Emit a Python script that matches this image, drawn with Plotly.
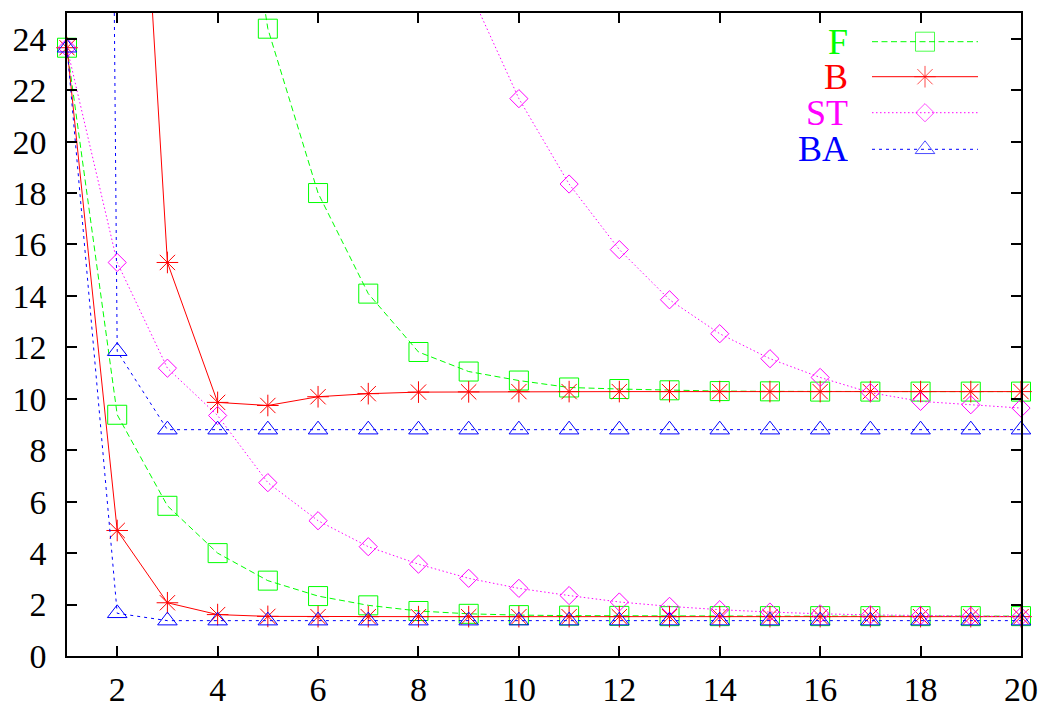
import plotly.graph_objects as go

# ---------------- data ----------------
x_all = list(range(1, 21))

F_low = [23.65, 9.38, 5.84, 4.00, 2.93, 2.33, 1.97, 1.75, 1.64, 1.59, 1.57, 1.56,
         1.55, 1.55, 1.55, 1.55, 1.55, 1.55, 1.55, 1.55]
F_up_x = list(range(4, 21))
F_up = [37.0, 24.39, 18.00, 14.09, 11.82, 11.06, 10.71, 10.44, 10.38, 10.33, 10.30,
        10.29, 10.28, 10.28, 10.28, 10.28, 10.28]

B_low = [23.65, 4.88, 2.07, 1.61, 1.54, 1.53, 1.53, 1.53, 1.53, 1.53, 1.53, 1.53,
         1.53, 1.53, 1.53, 1.53, 1.53, 1.53, 1.53, 1.53]
B_up_x = list(range(2, 21))
B_up = [48.0, 15.30, 9.86, 9.74, 10.08, 10.20, 10.26, 10.27, 10.28, 10.28, 10.28,
        10.28, 10.28, 10.28, 10.28, 10.28, 10.28, 10.28, 10.28]

ST_low = [23.65, 15.30, 11.19, 9.35, 6.74, 5.26, 4.25, 3.57, 3.02, 2.63, 2.35, 2.10,
          1.93, 1.80, 1.71, 1.64, 1.60, 1.57, 1.55, 1.54]
ST_up_x = list(range(9, 21))
ST_up = [25.95, 21.67, 18.35, 15.80, 13.85, 12.53, 11.56, 10.83, 10.24, 9.90, 9.77, 9.64]

BA_low = [23.65, 1.66, 1.375, 1.375, 1.375, 1.375, 1.375, 1.375, 1.375, 1.375, 1.375,
          1.375, 1.375, 1.375, 1.375, 1.375, 1.375, 1.375, 1.375, 1.375]
BA_up = [240.0, 11.85, 8.80, 8.80, 8.80, 8.80, 8.80, 8.80, 8.80, 8.80, 8.80, 8.80,
         8.80, 8.80, 8.80, 8.80, 8.80, 8.80, 8.80, 8.80]

series_names = ["F", "B", "ST", "BA"]
x_ticks = list(range(2, 21, 2))
y_ticks = list(range(0, 25, 2))

# ---------------- styles ----------------
SERIF = "Liberation Serif"
GREEN, RED, MAG, BLUE = "#00ff00", "#ff0000", "#ff00ff", "#0000ff"
styles = {
    "F": dict(color=GREEN, dash="6px,3.5px", symbol="square-open", size=19),
    "B": dict(color=RED, dash="solid", symbol="asterisk-open", size=18),
    "ST": dict(color=MAG, dash="1.5px,2.5px", symbol="diamond-open", size=14),
    "BA": dict(color=BLUE, dash="3px,4px", symbol="triangle-up-open", size=17),
}

data = {
    "F": [(x_all, F_low), (F_up_x, F_up)],
    "B": [(x_all, B_low), (B_up_x, B_up)],
    "ST": [(x_all, ST_low), (ST_up_x, ST_up)],
    "BA": [(x_all, BA_low), (x_all, BA_up)],
}

fig = go.Figure()
for name in series_names:
    st = styles[name]
    for xs, ys in data[name]:
        fig.add_trace(go.Scatter(
            x=xs, y=ys, mode="lines+markers", showlegend=False, cliponaxis=False,
            line=dict(color=st["color"], width=1, dash=st["dash"]),
            marker=dict(symbol=st["symbol"], size=st["size"], color=st["color"],
                        line=dict(color=st["color"], width=1)),
        ))

# ---------------- gnuplot-style key (text left of sample) ----------------
key_rows = [28.7, 63.7, 99.7, 136.3]
for name, yr in zip(series_names, key_rows):
    st = styles[name]
    fig.add_trace(go.Scatter(
        x=[805, 858, 911], y=[yr, yr, yr], mode="lines+markers", showlegend=False,
        xaxis="x2", yaxis="y2",
        line=dict(color=st["color"], width=1, dash=st["dash"]),
        marker=dict(symbol=st["symbol"], size=[0, st["size"], 0], color=st["color"],
                    line=dict(color=st["color"], width=1)),
    ))
    fig.add_annotation(x=783, y=yr, xref="x2", yref="y2", text=name, showarrow=False,
                       xanchor="right", yanchor="middle", height=30,
                       font=dict(family=SERIF, size=36, color=st["color"]))

axis_common = dict(showline=True, linecolor="black", linewidth=1.5, mirror="ticks",
                   ticks="inside", ticklen=10, tickwidth=1.5, tickcolor="black",
                   showgrid=False, zeroline=False, automargin=False,
                   tickfont=dict(family=SERIF, size=34, color="black"))

fig.update_layout(
    width=1042, height=706,
    margin=dict(l=67, r=21, t=13, b=50),
    font=dict(family=SERIF, size=34, color="black"),
    paper_bgcolor="white", plot_bgcolor="white",
    xaxis=dict(range=[1, 20], tickmode="array", tickvals=x_ticks,
               ticklabelstandoff=2, **axis_common),
    yaxis=dict(range=[0, 25], tickmode="array", tickvals=y_ticks,
               ticklabelstandoff=12, **axis_common),
    xaxis2=dict(range=[0, 954], overlaying="x", visible=False, anchor="y2"),
    yaxis2=dict(range=[643, 0], overlaying="y", visible=False, anchor="x2"),
)

fig.write_html(
    "out.html",
    config={"displayModeBar": False},
    post_script="document.body.style.margin='0';document.body.style.overflow='hidden';",
)
